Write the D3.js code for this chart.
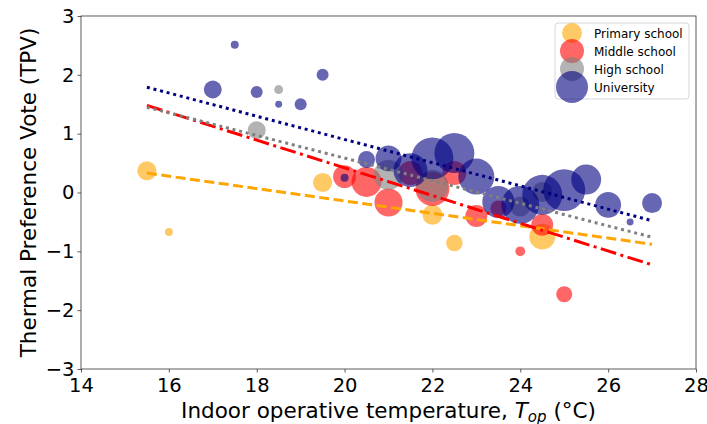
<!DOCTYPE html>
<html>
<head>
<meta charset="utf-8">
<script src="https://cdn.jsdelivr.net/npm/d3@7"></script>
<style>
  body { margin: 0; background: #fff; }
  svg { display: block; font-family: "DejaVu Sans", sans-serif; }
</style>
</head>
<body>
<svg id="chart" width="707" height="424"></svg>
<script>
"use strict";

// series: temperature (x), TPV (y), sample size (n -> bubble area)
var primaryX = [15.5, 16, 19.5, 22, 22.5, 24.5],
    primaryY = [0.37, -0.67, 0.17, -0.38, -0.86, -0.75],
    primaryN = [23, 4, 23, 25, 17, 42],

    middleX = [20, 20.5, 21, 21.5, 22, 22.5, 23, 23.5, 24, 24.5, 25],
    middleY = [0.27, 0.18, -0.17, 0.33, 0.06, 0.33, -0.40, -0.27, -1.0, -0.55, -1.73],
    middleN = [33, 56, 49, 36, 72, 36, 30, 16, 6, 30, 16],

    highX = [18, 18.5, 21, 22, 24, 24.5],
    highY = [1.06, 1.75, 0.30, 0.11, -0.24, 0.01],
    highN = [20, 5, 56, 64, 25, 25],

    uniX = [17, 17.5, 18, 18.5, 19, 19.5, 20, 20.5, 21, 21.5, 22, 22.5, 23, 23.5, 24, 24.5, 25, 25.5, 26, 26.5, 27],
    uniY = [1.75, 2.51, 1.71, 1.50, 1.50, 2.0, 0.25, 0.56, 0.58, 0.38, 0.58, 0.67, 0.27, -0.16, -0.21, -0.04, 0.04, 0.22, -0.21, -0.50, -0.18],
    uniN = [20, 4, 9, 3, 9, 9, 4, 18, 42, 72, 110, 100, 81, 64, 90, 100, 110, 56, 42, 3, 25],

    // fitted trend lines, TPV at the two ends of the temperature range
    trendX = [15.5, 27],
    primaryTrend = [0.33, -0.88],
    middleTrend = [1.48, -1.23],
    highTrend = [1.45, -0.76],
    uniTrend = [1.79, -0.48],

    seriesNames = ["Primary school", "Middle school", "High school", "University"],
    xTicks = [14, 16, 18, 20, 22, 24, 26, 28],
    yTicks = [-3, -2, -1, 0, 1, 2, 3];

var plotLeft = 81, plotRight = 696, plotTop = 16, plotBottom = 369,
    lineWidth = 3,
    styles = [
        {colour: "orange", dash: "10,4.5", legendR: 10},
        {colour: "red", dash: "16,4.5,3,4.5", legendR: 12},
        {colour: "grey", dash: "3,3.8", legendR: 12},
        {colour: "navy", dash: "3,3.8", legendR: 16}
    ];

var zip = function(xs, ys, ns) {
    return xs.map(function(x, i) {
        return {x: x, y: ys[i], n: ns ? ns[i] : 0};
    });
};

var series = [
    {name: seriesNames[0], points: zip(primaryX, primaryY, primaryN), trend: zip(trendX, primaryTrend)},
    {name: seriesNames[1], points: zip(middleX, middleY, middleN), trend: zip(trendX, middleTrend)},
    {name: seriesNames[2], points: zip(highX, highY, highN), trend: zip(trendX, highTrend)},
    {name: seriesNames[3], points: zip(uniX, uniY, uniN), trend: zip(trendX, uniTrend)}
];

var svg = d3.select("#chart"),
    x = d3.scaleLinear().domain([14, 28]).range([plotLeft, plotRight]),
    y = d3.scaleLinear().domain([-3, 3]).range([plotBottom, plotTop]),
    r = d3.scaleSqrt().domain([0, 100]).range([0, 20]);

// bubbles
var groups = svg.append("g")
    .selectAll("g")
    .data(series)
    .enter().append("g")
    .attr("fill", function(d, i) { return styles[i].colour; })
    .attr("fill-opacity", 0.6);

groups.selectAll("circle")
    .data(function(d) { return d.points; })
    .enter().append("circle")
    .attr("cx", function(d) { return x(d.x); })
    .attr("cy", function(d) { return y(d.y); })
    .attr("r", function(d) { return r(d.n); });

// trend lines
var line = d3.line()
    .x(function(d) { return x(d.x); })
    .y(function(d) { return y(d.y); });

svg.append("g")
    .selectAll("path")
    .data(series)
    .enter().append("path")
    .attr("d", function(d) { return line(d.trend); })
    .attr("fill", "none")
    .attr("stroke", function(d, i) { return styles[i].colour; })
    .attr("stroke-width", lineWidth)
    .attr("stroke-dasharray", function(d, i) { return styles[i].dash; });

// axes
var xAxis = svg.append("g")
    .attr("transform", "translate(0," + plotBottom + ")")
    .call(d3.axisBottom(x).tickValues(xTicks).tickSize(3.5).tickPadding(6).tickFormat(d3.format("d")));

var yAxis = svg.append("g")
    .attr("transform", "translate(" + plotLeft + ",0)")
    .call(d3.axisLeft(y).tickValues(yTicks).tickSize(3.5).tickPadding(3).tickFormat(d3.format("d")));

[xAxis, yAxis].forEach(function(axis) {
    axis.select(".domain").remove();
    axis.selectAll("line").attr("stroke", "#333").attr("stroke-width", 0.8);
    axis.selectAll("text")
        .attr("fill", "#000")
        .style("font-size", "19.5px")
        .style("font-family", "DejaVu Sans");
});

svg.append("rect")
    .attr("x", plotLeft)
    .attr("y", plotTop)
    .attr("width", plotRight - plotLeft)
    .attr("height", plotBottom - plotTop)
    .attr("fill", "none")
    .attr("stroke", "#333")
    .attr("stroke-width", 0.8);

// axis labels
var xLabel = svg.append("text")
    .attr("x", (plotLeft + plotRight) / 2)
    .attr("y", 418)
    .attr("text-anchor", "middle")
    .style("font-size", "21.5px");

xLabel.append("tspan").text("Indoor operative temperature, ");
xLabel.append("tspan").attr("font-style", "italic").text("T");
xLabel.append("tspan")
    .attr("font-style", "italic")
    .attr("font-size", "15px")
    .attr("dy", 4)
    .text("op");
xLabel.append("tspan").attr("dy", -4).text(" (°C)");

svg.append("text")
    .attr("transform", "translate(36," + ((plotTop + plotBottom) / 2) + ") rotate(-90)")
    .attr("text-anchor", "middle")
    .style("font-size", "21.5px")
    .text("Thermal Preference Vote (TPV)");

// legend
var legend = svg.append("g")
    .attr("transform", "translate(555,23)");

legend.append("rect")
    .attr("width", 134)
    .attr("height", 76)
    .attr("rx", 3)
    .attr("fill", "#fff")
    .attr("fill-opacity", 0.8)
    .attr("stroke", "#d6d6d6")
    .attr("stroke-width", 1);

var items = legend.selectAll("g.item")
    .data(series)
    .enter().append("g")
    .attr("class", "item")
    .attr("transform", function(d, i) { return "translate(0," + (10 + i * 18) + ")"; });

items.append("circle")
    .attr("cx", 17)
    .attr("r", function(d, i) { return styles[i].legendR; })
    .attr("fill", function(d, i) { return styles[i].colour; })
    .attr("fill-opacity", 0.6);

items.append("text")
    .attr("x", 39)
    .attr("y", 4.5)
    .style("font-size", "12px")
    .text(function(d) { return d.name; });
</script>
</body>
</html>
